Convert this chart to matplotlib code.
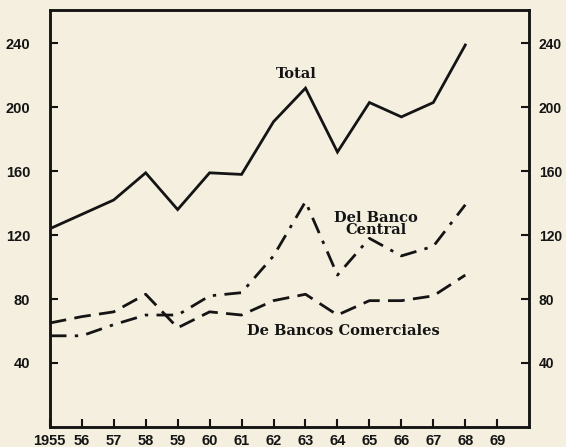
import matplotlib
matplotlib.use("Agg")
import matplotlib.pyplot as plt

years = [1955, 1956, 1957, 1958, 1959, 1960, 1961, 1962, 1963, 1964, 1965, 1966, 1967, 1968]
total = [124, 133, 142, 159, 136, 159, 158, 191, 212, 172, 203, 194, 203, 239]
banco_central = [57, 57, 64, 70, 70, 82, 84, 107, 141, 95, 118, 107, 113, 139]
bancos_comerciales = [65, 69, 72, 83, 62, 72, 70, 79, 83, 70, 79, 79, 82, 95]

xtick_vals = list(range(1955, 1970))
xtick_labels = ["1955"] + [str(y % 100) for y in range(1956, 1970)]
ytick_vals = [40, 80, 120, 160, 200, 240]

bg = "#f4efdf"
ink = "#141414"

fig = plt.figure(figsize=(5.66, 4.47), dpi=100, facecolor=bg)
ax = fig.add_axes([0.088, 0.045, 0.847, 0.933], facecolor=bg)

ax.plot(years, total, color=ink, lw=2.0, solid_joinstyle="miter")
ax.plot(years, banco_central, color=ink, lw=2.0, dashes=(6, 3, 1.2, 3))
ax.plot(years, bancos_comerciales, color=ink, lw=2.0, dashes=(6, 3))

ax.set_xlim(1955, 1970)
ax.set_ylim(0, 261)

ax.set_xticks(xtick_vals, xtick_labels)
ax.set_yticks(ytick_vals)
ax.tick_params(axis="x", direction="in", length=6, width=1.5, pad=5,
               labelsize=10.5, colors=ink)
ax.tick_params(axis="y", direction="in", length=6, width=1.5, pad=14,
               labelsize=10.5, colors=ink)

ax2 = ax.twinx()
ax2.set_ylim(0, 261)
ax2.set_yticks(ytick_vals)
ax2.tick_params(axis="y", direction="in", length=6, width=1.5, pad=7,
                labelsize=10, colors=ink)

for lbl in ax.get_xticklabels() + ax.get_yticklabels() + ax2.get_yticklabels():
    lbl.set_fontweight("bold")
    lbl.set_family("Liberation Sans")

for a in (ax, ax2):
    for s in a.spines.values():
        s.set_linewidth(1.8)
        s.set_color(ink)

tfont = dict(family="DejaVu Serif", fontweight="bold", fontsize=10.5, color=ink)
ax.text(1962.7, 221, "Total", ha="center", va="center", **tfont)
ax.text(1965.2, 127, "Del Banco\nCentral", ha="center", va="center",
        linespacing=0.85, **tfont)
ax.text(1964.2, 60, "De Bancos Comerciales", ha="center", va="center", **tfont)

fig.savefig("out.png", dpi=100, facecolor=bg)
